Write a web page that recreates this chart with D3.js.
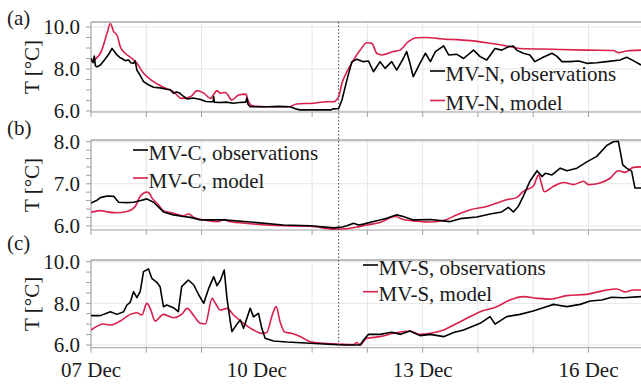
<!DOCTYPE html>
<html>
<head>
<meta charset="utf-8">
<script src="https://cdn.jsdelivr.net/npm/d3@7/dist/d3.min.js"></script>
</head>
<body style="margin:0;background:#fff">
<svg id="s" width="641" height="385"></svg>
<script>
// Water temperature series, [days since 07 Dec 00:00, °C]
const northObs = [[0,8.51],[0.04,8.30],[0.06,8.62],[0.08,8.15],[0.11,8.10],[0.17,8.19],[0.25,8.45],[0.32,8.70],[0.38,8.98],[0.42,8.85],[0.47,8.67],[0.52,8.55],[0.56,8.50],[0.62,8.40],[0.68,8.43],[0.72,8.30],[0.77,8.27],[0.80,8.38],[0.83,7.95],[0.90,7.65],[0.95,7.40],[1.04,7.25],[1.13,7.13],[1.25,7.10],[1.37,7.03],[1.43,7.02],[1.49,6.84],[1.55,6.90],[1.61,6.84],[1.67,6.70],[1.74,6.57],[1.85,6.62],[1.98,6.55],[2.08,6.45],[2.16,6.44],[2.21,6.44],[2.22,6.68],[2.23,6.42],[2.31,6.40],[2.45,6.42],[2.57,6.37],[2.68,6.40],[2.80,6.42],[2.82,6.62],[2.84,6.32],[2.88,6.20],[3.18,6.20],[3.40,6.22],[3.60,6.20],[3.70,6.10],[3.78,6.05],[4.10,6.05],[4.33,6.05],[4.39,6.10],[4.48,6.12],[4.54,6.52],[4.63,7.48],[4.72,8.35],[4.81,8.46],[4.93,8.35],[5.02,8.38],[5.11,7.87],[5.23,8.35],[5.32,8.03],[5.44,8.35],[5.53,7.95],[5.65,8.50],[5.71,8.83],[5.77,8.27],[5.83,7.63],[5.95,8.27],[6.05,8.75],[6.14,8.35],[6.23,8.83],[6.38,9.10],[6.47,8.67],[6.62,8.70],[6.74,8.50],[6.92,8.90],[7.04,8.59],[7.16,8.43],[7.31,8.98],[7.43,8.90],[7.55,9.06],[7.64,9.10],[7.70,8.90],[7.82,8.75],[7.94,8.67],[8.03,8.35],[8.18,8.56],[8.34,8.75],[8.43,8.60],[8.52,8.35],[8.67,8.35],[8.82,8.38],[8.97,8.27],[9.15,8.30],[9.33,8.35],[9.57,8.43],[9.69,8.56],[9.81,8.40],[9.95,8.19]];
const northModel = [[0,8.35],[0.17,8.75],[0.29,9.70],[0.35,10.17],[0.41,9.78],[0.47,9.62],[0.53,9.06],[0.62,8.75],[0.74,8.50],[0.83,8.27],[0.95,7.80],[1.13,7.40],[1.31,7.13],[1.49,6.92],[1.64,6.60],[1.80,6.68],[1.92,6.97],[2.04,6.85],[2.16,6.60],[2.28,6.97],[2.34,6.85],[2.43,6.88],[2.55,6.52],[2.67,6.76],[2.80,6.80],[2.85,6.44],[2.92,6.24],[3.18,6.20],[3.58,6.20],[3.72,6.33],[4.02,6.37],[4.26,6.44],[4.39,6.44],[4.48,6.68],[4.54,7.32],[4.63,7.87],[4.75,8.43],[4.87,8.90],[4.99,9.25],[5.08,9.22],[5.17,8.75],[5.26,8.67],[5.47,8.83],[5.59,8.90],[5.74,9.30],[5.89,9.49],[6.08,9.50],[6.26,9.46],[6.45,9.41],[6.62,9.40],[6.86,9.35],[7.16,9.25],[7.52,9.10],[7.76,8.98],[8.37,8.94],[8.97,8.90],[9.45,8.88],[9.54,8.78],[9.69,8.86],[9.95,8.90]];

const centralObs = [[0,6.54],[0.10,6.60],[0.17,6.67],[0.29,6.71],[0.41,6.70],[0.50,6.56],[0.65,6.55],[0.77,6.56],[0.90,6.60],[1.01,6.64],[1.13,6.56],[1.22,6.45],[1.31,6.33],[1.49,6.26],[1.67,6.22],[1.80,6.20],[1.98,6.14],[2.40,6.14],[2.88,6.09],[3.48,6.02],[3.97,6.00],[4.39,5.95],[4.55,5.97],[4.63,6.00],[4.75,6.06],[4.84,6.02],[4.93,6.04],[5.11,6.10],[5.23,6.14],[5.35,6.18],[5.53,6.26],[5.65,6.22],[5.83,6.14],[6.14,6.15],[6.50,6.10],[6.68,6.17],[6.98,6.21],[7.22,6.28],[7.43,6.33],[7.55,6.44],[7.64,6.33],[7.73,6.46],[7.82,6.70],[7.94,7.06],[8.07,7.31],[8.16,7.17],[8.22,7.25],[8.34,7.21],[8.49,7.37],[8.61,7.31],[8.79,7.37],[8.97,7.52],[9.15,7.65],[9.33,7.91],[9.45,8.00],[9.54,8.01],[9.57,7.80],[9.62,7.45],[9.69,7.37],[9.78,7.30],[9.84,6.90],[9.95,6.90]];
const centralModel = [[0,6.32],[0.17,6.36],[0.29,6.33],[0.45,6.31],[0.65,6.34],[0.80,6.46],[0.89,6.70],[1.01,6.80],[1.05,6.78],[1.10,6.67],[1.22,6.50],[1.31,6.36],[1.49,6.30],[1.67,6.24],[1.77,6.28],[1.86,6.20],[2.04,6.14],[2.30,6.10],[2.41,6.15],[2.50,6.10],[2.88,6.05],[3.48,6.00],[3.97,5.99],[4.39,5.92],[4.63,5.93],[4.81,5.97],[4.99,6.02],[5.23,6.08],[5.50,6.22],[5.65,6.15],[5.89,6.11],[6.14,6.09],[6.41,6.14],[6.62,6.26],[6.86,6.38],[7.16,6.46],[7.34,6.54],[7.52,6.62],[7.70,6.67],[7.82,6.82],[8.00,6.94],[8.10,7.21],[8.14,7.05],[8.20,6.81],[8.37,6.94],[8.55,7.03],[8.73,6.98],[8.91,7.06],[9.00,6.98],[9.21,7.02],[9.39,7.13],[9.54,7.31],[9.66,7.27],[9.81,7.39],[9.95,7.40]];

const southObs = [[0,7.41],[0.17,7.41],[0.35,7.60],[0.47,7.47],[0.59,7.60],[0.65,7.92],[0.71,8.05],[0.77,8.56],[0.83,8.27],[0.89,8.56],[0.95,9.52],[1.04,9.65],[1.10,9.20],[1.19,9.01],[1.25,8.80],[1.31,7.84],[1.37,7.92],[1.49,7.79],[1.58,7.60],[1.64,8.80],[1.76,9.12],[1.86,8.88],[1.95,8.40],[2.04,8.00],[2.13,8.72],[2.22,9.28],[2.28,8.85],[2.34,9.10],[2.41,9.60],[2.46,8.24],[2.52,7.12],[2.55,6.64],[2.64,7.00],[2.70,7.20],[2.76,6.80],[2.88,7.76],[2.94,7.35],[3.03,7.52],[3.09,6.80],[3.15,6.32],[3.30,6.19],[3.54,6.14],[3.97,6.08],[4.21,6.05],[4.57,6.00],[4.87,6.00],[4.93,6.24],[5.02,6.51],[5.23,6.51],[5.44,6.61],[5.60,6.51],[5.77,6.67],[5.95,6.45],[6.14,6.51],[6.38,6.40],[6.56,6.60],[6.74,6.72],[7.04,7.04],[7.22,7.36],[7.31,7.00],[7.52,7.36],[7.76,7.47],[8.00,7.63],[8.18,7.79],[8.37,7.95],[8.43,7.92],[8.61,7.84],[8.85,7.95],[9.03,8.11],[9.24,8.16],[9.42,8.29],[9.63,8.27],[9.95,8.32]];
const southModel = [[0,6.72],[0.23,7.01],[0.35,6.96],[0.53,7.15],[0.71,7.47],[0.83,7.55],[0.92,7.44],[1.01,8.00],[1.08,7.70],[1.16,7.15],[1.31,7.47],[1.49,7.31],[1.64,7.47],[1.74,7.76],[1.86,7.40],[1.98,7.04],[2.07,7.01],[2.19,8.24],[2.25,8.00],[2.34,7.68],[2.46,7.76],[2.58,7.44],[2.76,7.04],[2.94,6.72],[3.09,6.56],[3.18,6.60],[3.27,7.36],[3.35,7.84],[3.42,7.12],[3.51,6.61],[3.63,6.56],[3.79,6.40],[3.97,6.16],[4.21,6.08],[4.57,6.03],[4.75,6.02],[4.81,6.12],[4.87,6.00],[4.99,6.32],[5.23,6.40],[5.47,6.56],[5.77,6.67],[5.95,6.51],[6.14,6.56],[6.38,6.72],[6.56,6.96],[6.80,7.28],[7.04,7.60],[7.34,7.84],[7.58,8.16],[7.82,8.32],[8.07,8.24],[8.31,8.20],[8.61,8.37],[8.97,8.43],[9.27,8.61],[9.51,8.69],[9.66,8.55],[9.81,8.64],[9.95,8.64]];

const panelLetters = ["(a)", "(b)", "(c)"];
const seriesNames = [
  ["MV-N, observations", "MV-N, model"],
  ["MV-C, observations", "MV-C, model"],
  ["MV-S, observations", "MV-S, model"]
];
const yTickValues = [[6, 8, 10], [6, 7, 8], [6, 8, 10]];
const xTickDays = [7, 10, 13, 16];       // labelled dates on the bottom axis
const markerDay = 4.48;                  // dotted reference time (days after 07 Dec)

const OBS_COLOR = "#000000";
const MOD_COLOR = "#d8204c";
const TEXT_COLOR = "#1a1a1a";
const startDate = new Date(2019, 11, 7);
const toDate = d => new Date(startDate.getTime() + d * 864e5);

const svg = d3.select("#s");
const left = 91, right = 641;

// every text element uses the same serif face and size
const label = (sel) => sel.style("font-family", '"Liberation Serif"').attr("font-size", 21).attr("fill", TEXT_COLOR);

const x = d3.scaleTime()
  .domain([toDate(0), toDate(9.95)])
  .range([left, right]);

const panels = [
  { obs: northObs, mod: northModel, domain: [5.95, 10.24], range: [112, 22], minor: 0.5,
    legend: { x: 430, y: 71, gap: 29.5 }, letterY: 25 },
  { obs: centralObs, mod: centralModel, domain: [5.9, 8.04], range: [230, 140], minor: 0.2,
    legend: { x: 133, y: 150, gap: 28 }, letterY: 135 },
  { obs: southObs, mod: southModel, domain: [5.87, 10.08], range: [347.7, 260], minor: 0.5,
    legend: { x: 363, y: 265, gap: 26.7 }, letterY: 250 }
];

const dayTicks = d3.range(0, 10).map(toDate).filter(t => t.getDate() !== 10);
const fmt = d3.timeFormat("%d %b");

panels.forEach((p, i) => {
  const y = d3.scaleLinear().domain(p.domain).range(p.range);
  const g = svg.append("g");
  const yTop = p.range[1], yBot = p.range[0];

  // grid
  g.selectAll(".vg").data(dayTicks).join("line")
    .attr("x1", d => x(d)).attr("x2", d => x(d))
    .attr("y1", yTop).attr("y2", yBot)
    .attr("stroke", "#e6e6e6").attr("stroke-width", 1);
  g.selectAll(".hg").data(yTickValues[i]).join("line")
    .attr("x1", left).attr("x2", right)
    .attr("y1", d => y(d)).attr("y2", d => y(d))
    .attr("stroke", "#e6e6e6").attr("stroke-width", 1);

  // frame: top border, left axis, bottom axis
  g.append("line").attr("x1", left).attr("x2", right).attr("y1", yTop).attr("y2", yTop)
    .attr("stroke", "#a8a8a8").attr("stroke-width", 1.5);
  g.append("line").attr("x1", left).attr("x2", left).attr("y1", yTop).attr("y2", yBot)
    .attr("stroke", "#a0a0a0").attr("stroke-width", 1);
  g.append("line").attr("x1", left).attr("x2", right).attr("y1", yBot).attr("y2", yBot)
    .attr("stroke", "#a0a0a0").attr("stroke-width", 1);

  // y ticks (major + minor)
  const minorVals = d3.range(6, p.domain[1] + 1e-6, p.minor).filter(v => v >= p.domain[0]);
  g.selectAll(".mt").data(minorVals).join("line")
    .attr("x1", left - 5).attr("x2", left)
    .attr("y1", d => y(d)).attr("y2", d => y(d))
    .attr("stroke", "#a0a0a0").attr("stroke-width", 1);
  g.selectAll(".yl").data(yTickValues[i]).join("text")
    .attr("x", left - 11).attr("y", d => y(d)).attr("dy", "0.35em")
    .attr("text-anchor", "end")
    .call(label)
    .text(d => d.toFixed(1));

  // x ticks
  g.selectAll(".xt").data(dayTicks).join("line")
    .attr("x1", d => x(d)).attr("x2", d => x(d))
    .attr("y1", yBot).attr("y2", yBot + 5)
    .attr("stroke", "#a0a0a0").attr("stroke-width", 1);

  // y title
  const cy = (yTop + yBot) / 2;
  g.append("text")
    .attr("transform", `translate(32,${cy}) rotate(-90)`)
    .attr("text-anchor", "middle").attr("dy", "0.35em")
    .call(label).text("T [°C]");

  // panel letter
  g.append("text").attr("x", 7).attr("y", p.letterY)
    .call(label).text(panelLetters[i]);

  // series
  const clipId = "clip" + i;
  svg.append("clipPath").attr("id", clipId).append("rect")
    .attr("x", left).attr("y", yTop).attr("width", right - left).attr("height", yBot - yTop);
  const lineObs = d3.line().x(d => x(toDate(d[0]))).y(d => y(d[1]));
  const lineMod = d3.line().x(d => x(toDate(d[0]))).y(d => y(d[1])).curve(d3.curveMonotoneX);
  g.append("path").datum(p.mod).attr("d", lineMod).attr("clip-path", `url(#${clipId})`)
    .attr("fill", "none").attr("stroke", MOD_COLOR).attr("stroke-width", 1.6);
  g.append("path").datum(p.obs).attr("d", lineObs).attr("clip-path", `url(#${clipId})`)
    .attr("fill", "none").attr("stroke", OBS_COLOR).attr("stroke-width", 1.6)
    .attr("stroke-linejoin", "round");

  // legend
  [OBS_COLOR, MOD_COLOR].forEach((c, k) => {
    const ly = p.legend.y + k * p.legend.gap;
    g.append("line").attr("x1", p.legend.x).attr("x2", p.legend.x + 15)
      .attr("y1", ly).attr("y2", ly).attr("stroke", c).attr("stroke-width", 1.6);
    g.append("text").attr("x", p.legend.x + 15.5).attr("y", ly + 9.5)
      .call(label).text(seriesNames[i][k]);
  });
});

// x labels under the bottom panel
svg.selectAll(".xl").data(xTickDays).join("text")
  .attr("x", d => x(toDate(d - 7))).attr("y", 377)
  .attr("text-anchor", "middle")
  .call(label)
  .text(d => fmt(toDate(d - 7)));

// dotted time marker through all panels
svg.append("line")
  .attr("x1", x(toDate(markerDay))).attr("x2", x(toDate(markerDay)))
  .attr("y1", 22).attr("y2", 348)
  .attr("stroke", "#444").attr("stroke-width", 1)
  .attr("stroke-dasharray", "1.5,2");
</script>
</body>
</html>
